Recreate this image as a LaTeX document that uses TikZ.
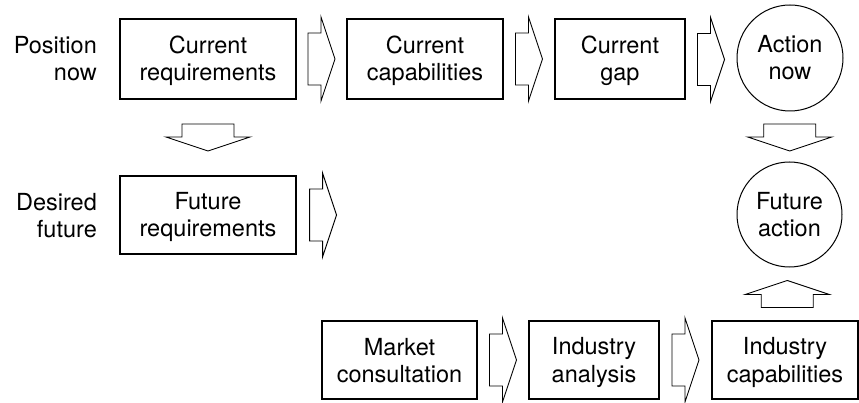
\documentclass[tikz,border=0pt]{standalone}
\usepackage{fontspec}
\setmainfont{TeX Gyre Heros}
\usetikzlibrary{calc}
\newcommand\vs{\rule[-5pt]{0pt}{27pt}}
\tikzset{
  txt/.style={align=center, inner sep=0pt, font=\fontsize{23.5}{27}\selectfont},
  box/.style={txt, draw, line width=1.1pt},
  circ/.style={txt, draw, circle, line width=1pt},
  lbl/.style={txt, align=right},
  barrow/.pic={\draw[fill=white, line width=0.9pt, line join=miter]
     (-13.5,-26) -- (-0.5,-26) -- (-0.5,-42) -- (13.5,0) -- (-0.5,42) -- (-0.5,26) -- (-13.5,26) -- cycle;}
}
\begin{document}
\begin{tikzpicture}[x=1pt,y=-1pt]
\useasboundingbox (0,0) rectangle (859,403);
% top row
\node[box, minimum width=176, minimum height=80] (CR) at (208,59) {\vs Current\\\vs requirements};
\node[box, minimum width=156, minimum height=80] (CC) at (425,59) {\vs Current\\\vs capabilities};
\node[box, minimum width=130, minimum height=80] (CG) at (620,59) {\vs Current\\\vs gap};
\node[circ, minimum size=106] (AN) at (790,58) {\vs Action\\\vs now};
% middle row
\node[box, minimum width=176, minimum height=78] (FR) at (208,215) {\vs Future\\\vs requirements};
\node[circ, minimum size=105] (FA) at (789.5,214.5) {\vs Future\\\vs action};
% bottom row
\node[box, minimum width=155, minimum height=78] (MC) at (399.5,360) {\vs Market\\\vs consultation};
\node[box, minimum width=130, minimum height=78] (IA) at (594,360) {\vs Industry\\\vs analysis};
\node[box, minimum width=146, minimum height=78] (IC) at (785,360) {\vs Industry\\\vs capabilities};
% labels
\node[lbl, anchor=east] (PN) at (97,59) {\vs Position\\\vs now};
\node[lbl, anchor=east] (DF) at (97,216) {\vs Desired\\\vs future};
% block arrows
\coordinate (g1) at ($(CR.east)!0.5!(CC.west)$);
\coordinate (g2) at ($(CC.east)!0.5!(CG.west)$);
\coordinate (g3) at ($(CG.east)!0.5!(AN.west)+(0,1)$);
\coordinate (g4) at ($(FR.east)+(26.5,0)$);
\coordinate (g5) at ($(CR.south)!0.5!(FR.north)$);
\coordinate (g6) at ($(AN.south)!0.5!(FA.north)+(0,1)$);
\coordinate (g7) at ($(FA.south)!0.5!(IC.north)$);
\coordinate (g8) at ($(MC.east)!0.5!(IA.west)$);
\coordinate (g9) at ($(IA.east)!0.5!(IC.west)$);
\pic at (g1) {barrow};
\pic at (g2) {barrow};
\pic at (g3) {barrow};
\pic at (g4) {barrow};
\pic[rotate=-90] at (g5) {barrow};
\pic[rotate=-90] at (g6) {barrow};
\pic[rotate=90] at (g7) {barrow};
\pic at (g8) {barrow};
\pic at (g9) {barrow};
\end{tikzpicture}
\end{document}
